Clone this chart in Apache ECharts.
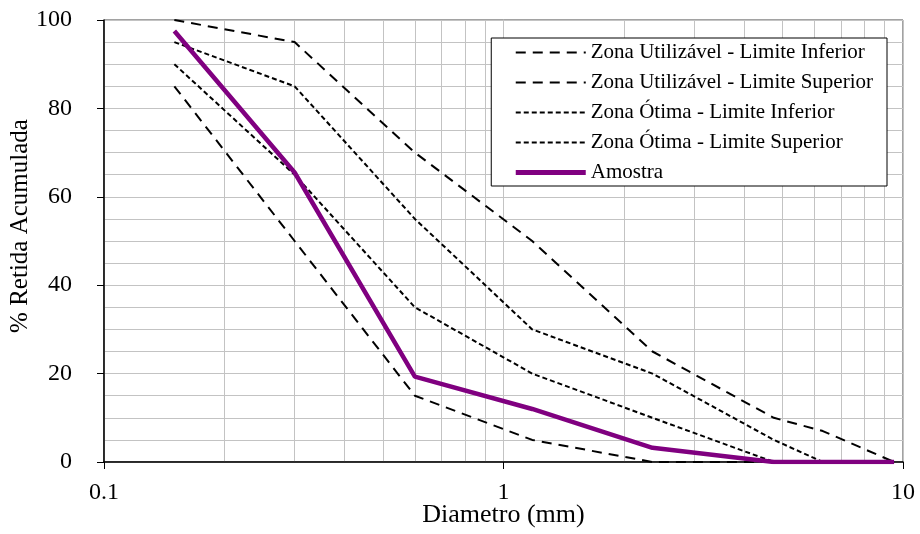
<!DOCTYPE html>
<html>
<head>
<meta charset="utf-8">
<script src="https://cdn.jsdelivr.net/npm/echarts@6/dist/echarts.min.js"></script>
<style>
html,body{margin:0;padding:0;background:#fff;}
#chart{width:920px;height:534px;}
</style>
</head>
<body>
<div id="chart"></div>
<script>
// aberturas das peneiras (mm)
var sieves = [0.15, 0.3, 0.6, 1.18, 2.36, 4.75, 6.3, 9.5];
// % retida acumulada
var utilInf = [85, 50, 15, 5, 0, 0, 0, 0];
var utilSup = [100, 95, 70, 50, 25, 10, 7, 0];
var otimaInf = [90, 65, 35, 20, 10, 0, 0, 0];
var otimaSup = [95, 85, 55, 30, 20, 5, 0, 0];
var amostra = [97.5, 65.5, 19.3, 12, 3.2, 0, 0, 0];

var names = [
    'Zona Utilizável - Limite Inferior',
    'Zona Utilizável - Limite Superior',
    'Zona Ótima - Limite Inferior',
    'Zona Ótima - Limite Superior',
    'Amostra'
];

function pairs(vals) {
    return sieves.map(function (s, i) { return [s, vals[i]]; });
}

var font = 'Liberation Serif';
var gridColor = '#c3c3c3';
var longDash = [10, 7], shortDash = [5, 3];

function dashed(name, vals, dash) {
    return {
        name: name,
        type: 'line',
        data: pairs(vals),
        symbol: 'none',
        silent: true,
        lineStyle: { color: '#000', width: 2, type: dash },
        itemStyle: { color: '#000' },
        z: 3
    };
}

var chart = echarts.init(document.getElementById('chart'));
chart.setOption({
    animation: false,
    backgroundColor: '#fff',
    grid: {
        left: 104, right: 17, top: 20, bottom: 72,
        outerBoundsMode: 'none',
        containLabel: false,
        show: true, borderColor: '#444', borderWidth: 1
    },
    legend: {
        orient: 'vertical',
        right: 33,
        top: 38,
        data: [
            { name: names[0], lineStyle: { width: 2, type: longDash } },
            { name: names[1], lineStyle: { width: 2, type: longDash } },
            { name: names[2], lineStyle: { width: 2, type: shortDash } },
            { name: names[3], lineStyle: { width: 2, type: shortDash } },
            { name: names[4], lineStyle: { width: 5 } }
        ],
        itemWidth: 70,
        itemHeight: 14,
        itemGap: 9,
        padding: [4, 14, 3, 22],
        borderColor: '#000',
        borderWidth: 1,
        backgroundColor: '#fff',
        itemStyle: { opacity: 0 },
        textStyle: { fontFamily: font, fontSize: 21, color: '#000' }
    },
    xAxis: {
        type: 'log',
        logBase: 10,
        min: 0.1,
        max: 10,
        name: 'Diametro (mm)',
        nameLocation: 'middle',
        nameGap: 40,
        nameMoveOverlap: false,
        nameTextStyle: { fontFamily: font, fontSize: 26, color: '#000' },
        axisLine: { show: true, lineStyle: { color: '#000', width: 1.5 } },
        axisTick: { show: true, length: 7, lineStyle: { color: '#000' } },
        axisLabel: {
            fontFamily: font, fontSize: 24, color: '#000', margin: 19,
            formatter: function (v) { return String(v); }
        },
        splitLine: { show: true, lineStyle: { color: gridColor, width: 1 } },
        minorTick: { show: false, splitNumber: 9 },
        minorSplitLine: { show: true, lineStyle: { color: gridColor, width: 1 } }
    },
    yAxis: {
        type: 'value',
        min: 0,
        max: 100,
        interval: 20,
        name: '% Retida Acumulada',
        nameLocation: 'middle',
        nameGap: 71,
        nameMoveOverlap: false,
        nameTextStyle: { fontFamily: font, fontSize: 25, color: '#000', padding: [0, 0, 0, 30] },
        axisLine: { show: true, lineStyle: { color: '#000', width: 1.5 } },
        axisTick: { show: true, length: 7, lineStyle: { color: '#000' } },
        axisLabel: { fontFamily: font, fontSize: 24, color: '#000', margin: 32 },
        splitLine: { show: true, lineStyle: { color: gridColor, width: 1 } },
        minorTick: { show: false, splitNumber: 4 },
        minorSplitLine: { show: true, lineStyle: { color: gridColor, width: 1 } }
    },
    series: [
        dashed(names[0], utilInf, longDash),
        dashed(names[1], utilSup, longDash),
        dashed(names[2], otimaInf, shortDash),
        dashed(names[3], otimaSup, shortDash),
        {
            name: names[4],
            type: 'line',
            data: pairs(amostra),
            symbol: 'none',
            silent: true,
            lineStyle: { color: '#800080', width: 4.5 },
            itemStyle: { color: '#800080' },
            z: 4
        }
    ]
});
</script>
</body>
</html>
